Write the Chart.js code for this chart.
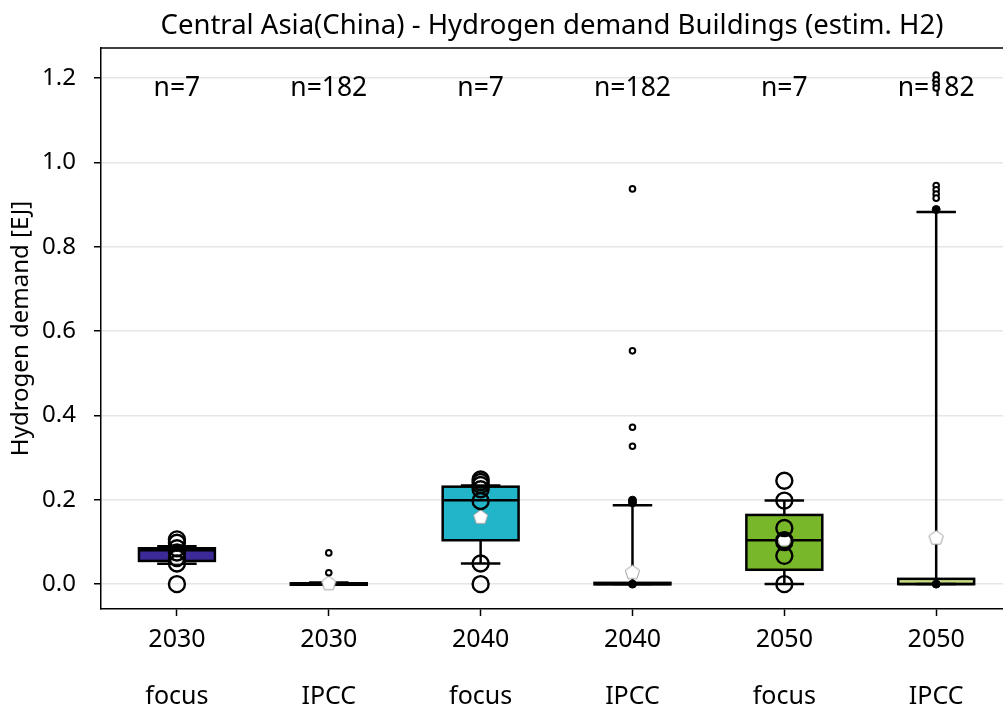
<!DOCTYPE html>
<html>
<head>
<meta charset="utf-8">
<script src="https://cdn.jsdelivr.net/npm/chart.js@4.4.1/dist/chart.umd.min.js"></script>
<style>
  html, body { margin: 0; padding: 0; background: #fff; overflow: hidden; }
  #wrap { width: 1003px; height: 711px; }
</style>
</head>
<body>
<div id="wrap"><canvas id="chart-h2"></canvas></div>
<script>
// categories
const years = ["2030", "2030", "2040", "2040", "2050", "2050"];
const sources = ["focus", "IPCC", "focus", "IPCC", "focus", "IPCC"];
const counts = ["n=7", "n=182", "n=7", "n=182", "n=7", "n=182"];
const yTicks = [0, 0.2, 0.4, 0.6, 0.8, 1.0, 1.2];

// box statistics
const whiskerLow = [0.048, 0, 0.049, 0, 0, 0];
const q1 = [0.055, 0, 0.104, 0, 0.034, 0];
const median = [0.08, 0, 0.199, 0, 0.104, 0];
const q3 = [0.085, 0.002, 0.231, 0.003, 0.164, 0.0125];
const whiskerHigh = [0.09, 0.004, 0.234, 0.187, 0.198, 0.882];
const means = [0.065, 0.003, 0.16, 0.029, 0.107, 0.111];

// raw values of the focus scenarios (n=7)
const focus2030 = [0, 0.049, 0.062, 0.075, 0.085, 0.098, 0.106];
const focus2040 = [0, 0.049, 0.197, 0.225, 0.235, 0.242, 0.248];
const focus2050 = [0, 0.067, 0.1, 0.104, 0.133, 0.198, 0.245];

// IPCC outliers
const ipcc2030 = [0.074, 0.027];
const ipcc2040 = [0.937, 0.553, 0.372, 0.327];
const ipcc2050 = [1.207, 1.195, 1.185, 1.176, 0.945, 0.935, 0.925, 0.915];
// bunched points at whisker ends
const ipccDense2040 = [0.199, 0.193, 0];
const ipccDense2050 = [0.888, 0];

const boxColors = ["#3b2a98", "#9b93cf", "#22b4c8", "#93dbe5", "#79b72a", "#c7dd82"];

const FONT = "'Noto Sans', 'Open Sans', sans-serif";

function pts(values, i) {
    return values.map((v) => ({ x: i, y: v }));
}

function pentagon(r, fill, stroke) {
    const c = document.createElement("canvas");
    const s = Math.ceil(r * 2 + 4);
    c.width = s;
    c.height = s;
    const g = c.getContext("2d");
    g.beginPath();
    for (let k = 0; k < 5; k++) {
        const a = -Math.PI / 2 + (k * 2 * Math.PI) / 5;
        g.lineTo(s / 2 + r * Math.cos(a), s / 2 + r * Math.sin(a) + r * 0.1);
    }
    g.closePath();
    g.fillStyle = fill;
    g.fill();
    g.strokeStyle = stroke;
    g.lineWidth = 1;
    g.stroke();
    return c;
}

// whiskers, box outline, median
const boxPlugin = {
    id: "boxes",
    afterDatasetDraw(chart, args) {
        if (chart.data.datasets[args.index].type !== "bar") return;
        const { ctx, scales } = chart;
        const x = scales.x, y = scales.y;
        const meta = chart.getDatasetMeta(args.index);
        ctx.save();
        ctx.strokeStyle = "#000";
        ctx.lineWidth = 2.5;
        const line = (x1, y1, x2, y2) => {
            ctx.beginPath();
            ctx.moveTo(x1, y1);
            ctx.lineTo(x2, y2);
            ctx.stroke();
        };
        meta.data.forEach((bar, i) => {
            const half = bar.width / 2;
            const cx = x.getPixelForValue(i);
            const top = y.getPixelForValue(q3[i]);
            const bot = y.getPixelForValue(q1[i]);
            line(cx, top, cx, y.getPixelForValue(whiskerHigh[i]));
            line(cx, bot, cx, y.getPixelForValue(whiskerLow[i]));
            const cap = half * 0.52;
            line(cx - cap, y.getPixelForValue(whiskerHigh[i]), cx + cap, y.getPixelForValue(whiskerHigh[i]));
            line(cx - cap, y.getPixelForValue(whiskerLow[i]), cx + cap, y.getPixelForValue(whiskerLow[i]));
            ctx.strokeRect(cx - half, top, half * 2, Math.max(bot - top, 1.5));
            line(cx - half, y.getPixelForValue(median[i]), cx + half, y.getPixelForValue(median[i]));
        });
        ctx.restore();
    },
};

// top spine and the n= labels
const framePlugin = {
    id: "frame",
    beforeDatasetsDraw(chart) {
        const { ctx, chartArea, scales } = chart;
        ctx.save();
        ctx.strokeStyle = "#000";
        ctx.lineWidth = 1.5;
        ctx.beginPath();
        ctx.moveTo(chartArea.left, chartArea.top);
        ctx.lineTo(chartArea.right, chartArea.top);
        ctx.stroke();
        ctx.fillStyle = "#000";
        ctx.font = "26.5px " + FONT;
        ctx.textAlign = "center";
        ctx.textBaseline = "middle";
        counts.forEach((t, i) => {
            ctx.fillText(t, scales.x.getPixelForValue(i), scales.y.getPixelForValue(1.176));
        });
        ctx.restore();
    },
};

const meanIcon = pentagon(7.5, "#ffffff", "#a0a0a0");

new Chart(document.getElementById("chart-h2").getContext("2d"), {
    type: "bar",
    data: {
        datasets: [
            {
                type: "bar",
                data: q1.map((v, i) => ({ x: i, y: [v, q3[i]] })),
                backgroundColor: boxColors,
                borderWidth: 0,
                barPercentage: 0.5,
                categoryPercentage: 1,
                order: 10,
            },
            {
                type: "scatter",
                data: means.map((v, i) => ({ x: i, y: v })),
                pointStyle: meanIcon,
                order: 5,
            },
            {
                type: "scatter",
                data: [...pts(focus2030, 0), ...pts(focus2040, 2), ...pts(focus2050, 4)],
                pointRadius: 8,
                borderWidth: 2.4,
                borderColor: "#000",
                backgroundColor: "rgba(0,0,0,0)",
                order: 3,
            },
            {
                type: "scatter",
                data: [...pts(ipcc2030, 1), ...pts(ipcc2040, 3), ...pts(ipcc2050, 5)],
                pointRadius: 2.8,
                borderWidth: 2,
                borderColor: "#000",
                backgroundColor: "#fff",
                order: 2,
            },
            {
                type: "scatter",
                data: [...pts(ipccDense2040, 3), ...pts(ipccDense2050, 5)],
                pointRadius: 4,
                borderWidth: 1,
                borderColor: "#000",
                backgroundColor: "#000",
                order: 1,
            },
        ],
    },
    options: {
        responsive: true,
        maintainAspectRatio: false,
        animation: false,
        layout: { padding: 0, autoPadding: false },
        plugins: {
            legend: { display: false },
            tooltip: { enabled: false },
            title: {
                display: true,
                fullSize: false,
                text: "Central Asia(China) - Hydrogen demand Buildings (estim. H2)",
                color: "#000",
                font: { family: FONT, size: 27.5, weight: "normal" },
                padding: { top: 10, bottom: 5 },
                align: "center",
            },
        },
        scales: {
            x: {
                type: "linear",
                offset: false,
                min: -0.5,
                max: 5.44,
                afterBuildTicks: (s) => {
                    s.ticks = years.map((_, i) => ({ value: i }));
                },
                afterFit: (s) => {
                    s.height = 102;
                    s.paddingLeft = 0;
                    s.paddingRight = 0;
                },
                ticks: {
                    autoSkip: false,
                    maxRotation: 0,
                    padding: 10,
                    color: "#000",
                    font: { family: FONT, size: 25, lineHeight: 1.14 },
                    callback: (v) => [years[v], "", sources[v]],
                },
                grid: {
                    offset: false,
                    drawOnChartArea: false,
                    tickColor: "#000",
                    tickLength: 7,
                    tickWidth: 1.5,
                },
                border: { color: "#000", width: 1.5 },
            },
            y: {
                min: -0.059,
                max: 1.271,
                afterBuildTicks: (s) => {
                    s.ticks = yTicks.map((v) => ({ value: v }));
                },
                afterFit: (s) => {
                    s.width = 101;
                },
                ticks: {
                    padding: 18,
                    color: "#000",
                    font: { family: FONT, size: 24 },
                    callback: (v) => v.toFixed(1),
                },
                grid: {
                    color: "#e6e6e6",
                    lineWidth: 1.5,
                    tickColor: "#000",
                    tickLength: 7,
                    tickWidth: 1.5,
                },
                border: { color: "#000", width: 1.5 },
                title: {
                    display: true,
                    text: "Hydrogen demand [EJ]",
                    color: "#000",
                    font: { family: FONT, size: 24 },
                    padding: { top: 7, bottom: 0 },
                },
            },
        },
    },
    plugins: [boxPlugin, framePlugin],
});
</script>
</body>
</html>
